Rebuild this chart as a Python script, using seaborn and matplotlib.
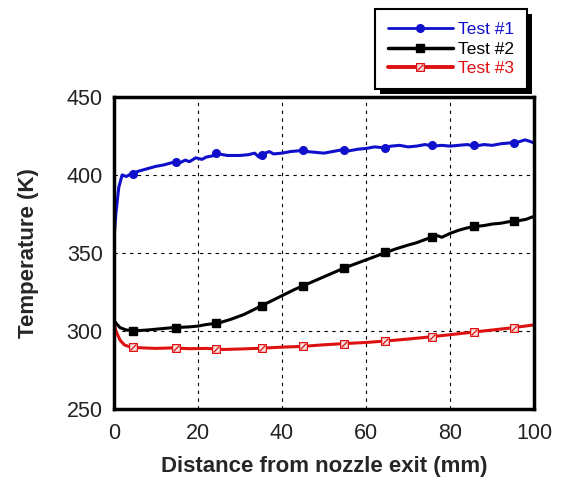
import numpy as np
import pandas as pd
import seaborn as sns
import matplotlib.pyplot as plt
from matplotlib.path import Path
from matplotlib.patches import Rectangle

sns.set_theme(style="white")
plt.rcParams['font.family'] = ['Liberation Sans', 'DejaVu Sans']

# Measured temperature profiles along the jet axis
t1_x = [0, 0.5, 1.2, 2, 3, 4, 5, 6, 8, 10, 12, 14, 15.5, 17, 18, 19.5, 21, 22, 24, 25,
        27, 30, 32, 33.5, 34.5, 36, 37, 38, 40, 42, 44, 46, 48, 50, 52, 54, 56, 58, 60,
        62, 64, 66, 68, 70, 72, 74, 76, 78, 80, 82, 84, 86, 88, 90, 92, 94, 96, 97.8, 99, 100]
t1_y = [357, 375, 392, 400, 399, 400.5, 401.5, 402.5, 404, 405.5, 406.5, 408, 407.5, 409.5,
        408.5, 411, 410, 411.5, 412.5, 413.5, 412.5, 412.5, 413, 414, 411.5, 414, 415, 413.5,
        414, 415, 415.5, 415, 414.5, 414, 415, 416, 415.5, 416.5, 417, 418, 417.5, 418.5,
        419, 418, 418.5, 419.5, 418.5, 419, 418.5, 419, 419.5, 418.5, 419.5, 419, 420,
        420.5, 421, 422.5, 421.5, 420.5]

t2_x = [0, 0.5, 1.5, 3, 5, 8, 10, 14, 18, 20, 22, 25, 28, 31, 34, 37, 40, 43, 46, 49, 52,
        55, 58, 61, 64, 67, 70, 72, 74, 76, 77, 78, 80, 82, 84, 86, 88, 90, 92, 94, 96, 98, 100]
t2_y = [307, 305, 302, 300.5, 300, 300.5, 301, 302, 302.5, 303, 304, 305, 307.5, 310.5,
        314.5, 318.5, 322.5, 326.5, 330, 333.5, 337, 340.5, 343.5, 346.5, 349.5, 352.5,
        355, 356.5, 358.5, 360.5, 361, 360, 362.5, 364.5, 366, 367, 367.5, 368.5, 369,
        370, 370.5, 371.5, 373.5]

t3_x = [0, 0.5, 1.5, 2.5, 4, 7, 10, 14, 18, 22, 26, 30, 35, 40, 45, 50, 55, 60, 65, 70,
        75, 80, 85, 90, 95, 100]
t3_y = [306, 300, 294, 291, 289.5, 289, 288.7, 289, 288.5, 288.7, 288, 288.3, 288.8, 289.5,
        290, 291, 291.8, 292.5, 293.5, 294.7, 296, 297.5, 299, 300.5, 302, 303.8]

# Marker (measurement station) positions
mk_x = [4.6, 14.7, 24.4, 35.3, 45.1, 54.8, 64.5, 75.6, 85.7, 95.1]
m1_y = [400.6, 408.5, 414.3, 412.8, 415.8, 415.8, 417.6, 419.2, 419.2, 420.3]
m2_y = [300.0, 302.0, 305.3, 315.8, 329.0, 340.2, 350.4, 360.1, 367.5, 370.7]
m3_y = [289.3, 288.7, 288.3, 288.7, 290.0, 291.7, 293.4, 296.0, 299.0, 302.1]

labels = ["Test #1", "Test #2", "Test #3"]
colors = ["#1010cc", "#000000", "#dd1111"]

lines = pd.concat([
    pd.DataFrame({"x": t1_x, "y": t1_y, "test": labels[0]}),
    pd.DataFrame({"x": t2_x, "y": t2_y, "test": labels[1]}),
    pd.DataFrame({"x": t3_x, "y": t3_y, "test": labels[2]}),
])

# hatched square marker for Test #3
hatched_sq = Path(
    [(-1, -1), (1, -1), (1, 1), (-1, 1), (-1, -1), (-0.7, -0.7), (0.7, 0.7)],
    [Path.MOVETO, Path.LINETO, Path.LINETO, Path.LINETO, Path.CLOSEPOLY, Path.MOVETO, Path.LINETO],
)

fig = plt.figure(figsize=(5.63, 4.78), dpi=100)
ax = fig.add_axes([0.202, 0.145, 0.747, 0.652])

sns.lineplot(data=lines, x="x", y="y", hue="test", palette=colors, sort=False,
             estimator=None, linewidth=2.2, legend=False, ax=ax)

ax.plot(mk_x, m1_y, ls="none", marker="o", ms=5.5, color=colors[0])
ax.plot(mk_x, m2_y, ls="none", marker="s", ms=5.8, color=colors[1])
ax.plot(mk_x, m3_y, ls="none", marker=hatched_sq, ms=5.6, mfc="#fbe0e0",
        mec=colors[2], mew=0.9)

ax.set_xlim(0, 100)
ax.set_ylim(250, 450)
ax.set_xticks([0, 20, 40, 60, 80, 100])
ax.set_yticks([250, 300, 350, 400, 450])
ax.tick_params(axis="both", labelsize=15.5, length=0, colors="#222222")
ax.tick_params(axis="x", pad=10)
ax.tick_params(axis="y", pad=8)
ax.grid(True, color="black", linestyle=(0, (3, 4)), linewidth=0.8)
for s in ax.spines.values():
    s.set_color("black")
    s.set_linewidth(2.5)

ax.set_xlabel("Distance from nozzle exit (mm)", fontsize=16, fontweight="bold", labelpad=9)
ax.set_ylabel("Temperature (K)", fontsize=16, fontweight="bold", labelpad=20)

handles = [
    plt.Line2D([], [], color=colors[0], lw=2, marker="o", ms=5.5),
    plt.Line2D([], [], color=colors[1], lw=2.5, marker="s", ms=5.8),
    plt.Line2D([], [], color=colors[2], lw=2.8, marker=hatched_sq, ms=5.6,
               mfc="#fbe0e0", mec=colors[2], mew=0.9),
]
leg = fig.legend(handles, labels, loc="upper right", bbox_to_anchor=(0.936, 0.981),
                 fontsize=12.5, labelcolor=colors, handlelength=3.7, numpoints=1,
                 frameon=True, fancybox=False, edgecolor="black", facecolor="white",
                 framealpha=1.0, borderpad=0.75, borderaxespad=0,
                 labelspacing=0.25, handletextpad=0.3)
leg.get_frame().set_linewidth(1.5)
leg.set_zorder(5)

# solid drop shadow behind the legend box
fig.canvas.draw()
bb = leg.get_frame().get_window_extent().transformed(fig.transFigure.inverted())
dx, dy = 5 / fig.bbox.width, 5 / fig.bbox.height
fig.patches.append(Rectangle((bb.x0 + dx, bb.y0 - dy), bb.width, bb.height,
                             transform=fig.transFigure, facecolor="black",
                             edgecolor="none", zorder=4))

fig.savefig("out.png", dpi=100, facecolor="white")
